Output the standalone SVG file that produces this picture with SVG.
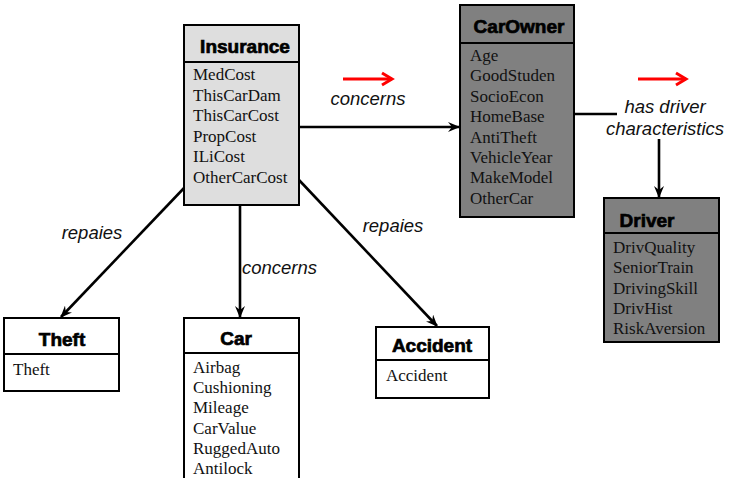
<svg xmlns="http://www.w3.org/2000/svg" width="729" height="478" viewBox="0 0 729 478">
<defs>
<style>
.box{stroke:#000;stroke-width:2}
.light{fill:#dedede}
.dark{fill:#808080}
.white{fill:#fff}
.sep{stroke:#000;stroke-width:2}
.hdr{font-family:"Liberation Sans",Arial,sans-serif;font-weight:bold;font-size:19px;text-anchor:middle;fill:#000;stroke:#000;stroke-width:0.7}
.attr{font-family:"Liberation Serif","Times New Roman",serif;font-size:17px;fill:#111}
.lbl{font-family:"Liberation Sans",Arial,sans-serif;font-style:italic;font-size:18.5px;fill:#111}
.edge{stroke:#000;stroke-width:2.6;fill:none}
.red{stroke:#ff0000;stroke-width:3;fill:none}
</style>
<marker id="arr" viewBox="0 0 12 10" refX="11" refY="5" markerWidth="12" markerHeight="10" markerUnits="userSpaceOnUse" orient="auto">
<path d="M0,0 L12,5 L0,10 L4,5 z" fill="#000"/>
</marker>
</defs>

<g id="connectors">
<line class="edge" x1="299" y1="127" x2="459" y2="127" marker-end="url(#arr)"/>
<polyline class="edge" points="574,114 617,114"/>
<line class="edge" x1="659" y1="139" x2="659" y2="197" marker-end="url(#arr)"/>
<line class="edge" x1="185" y1="187" x2="61" y2="317" marker-end="url(#arr)"/>
<line class="edge" x1="240" y1="205" x2="240" y2="317" marker-end="url(#arr)"/>
<line class="edge" x1="299" y1="180" x2="437" y2="326" marker-end="url(#arr)"/>
<g id="red-arrow-1">
<line class="red" x1="343" y1="79" x2="392" y2="79"/>
<polyline class="red" points="382,73 392,79 382,85"/>
</g>
<g id="red-arrow-2">
<line class="red" x1="638" y1="79" x2="686" y2="79"/>
<polyline class="red" points="676,73 686,79 676,85"/>
</g>
<text class="lbl" x="368" y="105" text-anchor="middle">concerns</text>
<text class="lbl" x="665" y="113" text-anchor="middle">has driver</text>
<text class="lbl" x="665" y="135" text-anchor="middle">characteristics</text>
<text class="lbl" x="92" y="239" text-anchor="middle">repaies</text>
<text class="lbl" x="242" y="274">concerns</text>
<text class="lbl" x="393" y="232" text-anchor="middle">repaies</text>
</g>

<g id="Insurance">
<rect class="box light" x="184" y="25" width="115" height="180"/>
<line class="sep" x1="184" y1="62" x2="299" y2="62"/>
<text class="hdr" x="245" y="53">Insurance</text>
<text class="attr" x="193" y="80">MedCost</text>
<text class="attr" x="193" y="100.5">ThisCarDam</text>
<text class="attr" x="193" y="121">ThisCarCost</text>
<text class="attr" x="193" y="141.5">PropCost</text>
<text class="attr" x="193" y="162">ILiCost</text>
<text class="attr" x="193" y="182.5">OtherCarCost</text>
</g>

<g id="CarOwner">
<rect class="box dark" x="460" y="5" width="114" height="212"/>
<line class="sep" x1="460" y1="43" x2="574" y2="43"/>
<text class="hdr" x="519" y="33">CarOwner</text>
<text class="attr" x="470" y="61">Age</text>
<text class="attr" x="470" y="81.4">GoodStuden</text>
<text class="attr" x="470" y="101.8">SocioEcon</text>
<text class="attr" x="470" y="122.2">HomeBase</text>
<text class="attr" x="470" y="142.6">AntiTheft</text>
<text class="attr" x="470" y="163">VehicleYear</text>
<text class="attr" x="470" y="183.4">MakeModel</text>
<text class="attr" x="470" y="203.8">OtherCar</text>
</g>

<g id="Driver">
<rect class="box dark" x="604" y="198" width="115" height="144"/>
<line class="sep" x1="604" y1="233" x2="719" y2="233"/>
<text class="hdr" x="647" y="227">Driver</text>
<text class="attr" x="613" y="253">DrivQuality</text>
<text class="attr" x="613" y="273.3">SeniorTrain</text>
<text class="attr" x="613" y="293.6">DrivingSkill</text>
<text class="attr" x="613" y="313.9">DrivHist</text>
<text class="attr" x="613" y="334.2">RiskAversion</text>
</g>

<g id="Theft">
<rect class="box white" x="4" y="318" width="115" height="73"/>
<line class="sep" x1="4" y1="354" x2="119" y2="354"/>
<text class="hdr" x="62" y="346">Theft</text>
<text class="attr" x="13" y="375">Theft</text>
</g>

<g id="Car">
<rect class="box white" x="184" y="318" width="115" height="170"/>
<line class="sep" x1="184" y1="353" x2="299" y2="353"/>
<text class="hdr" x="236" y="345">Car</text>
<text class="attr" x="193" y="373">Airbag</text>
<text class="attr" x="193" y="393.2">Cushioning</text>
<text class="attr" x="193" y="413.4">Mileage</text>
<text class="attr" x="193" y="433.6">CarValue</text>
<text class="attr" x="193" y="453.8">RuggedAuto</text>
<text class="attr" x="193" y="474">Antilock</text>
</g>

<g id="Accident">
<rect class="box white" x="376" y="327" width="113" height="71"/>
<line class="sep" x1="376" y1="360" x2="489" y2="360"/>
<text class="hdr" x="432" y="352">Accident</text>
<text class="attr" x="386" y="381">Accident</text>
</g>
</svg>
